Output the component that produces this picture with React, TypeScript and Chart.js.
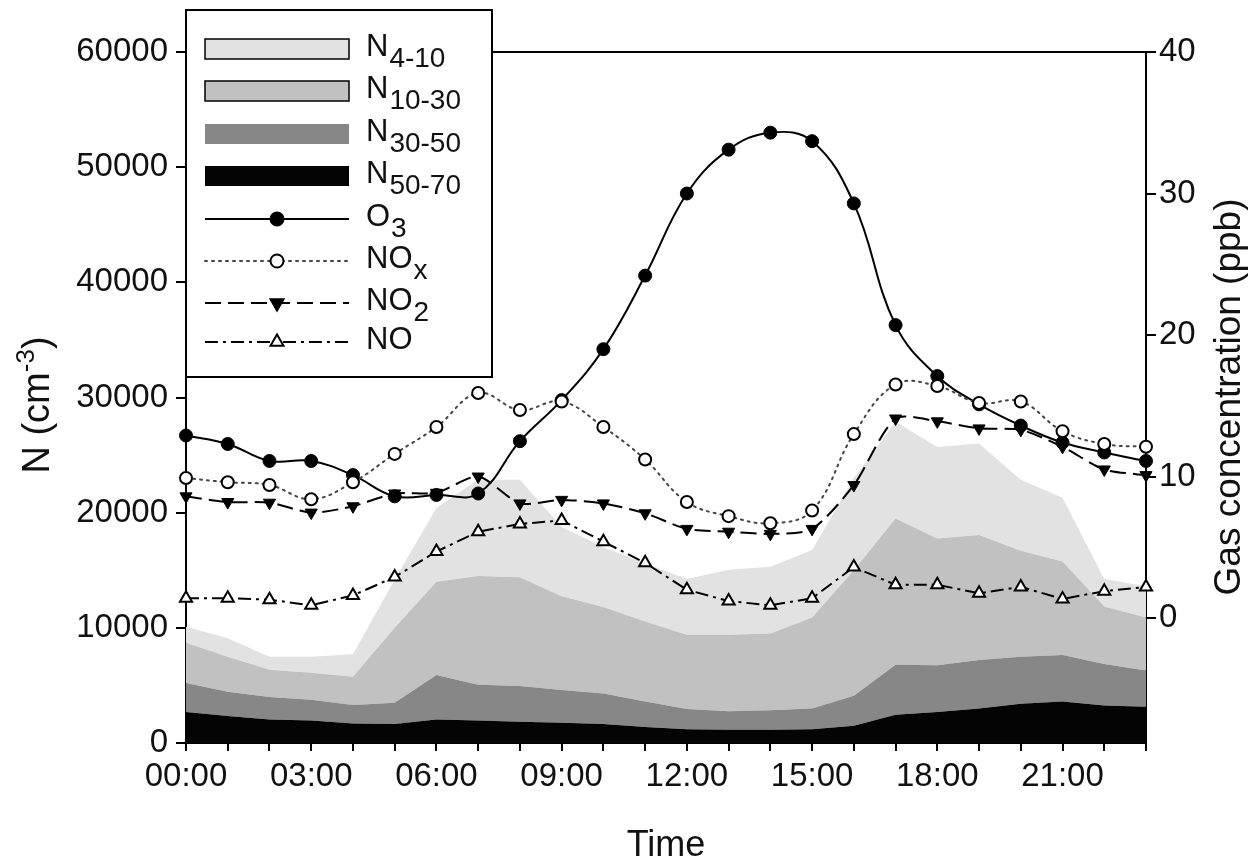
import React, { useEffect, useRef } from 'react';
import { Chart, registerables } from 'chart.js';

Chart.register(...registerables);

// ---------- data ----------
const hours = [
  '00:00', '01:00', '02:00', '03:00', '04:00', '05:00', '06:00', '07:00',
  '08:00', '09:00', '10:00', '11:00', '12:00', '13:00', '14:00', '15:00',
  '16:00', '17:00', '18:00', '19:00', '20:00', '21:00', '22:00', '23:00',
];

// particle number concentrations per size band (cm^-3), stacked
const n50_70 = [2700, 2350, 2050, 1950, 1700, 1650, 2050, 1950, 1850, 1750, 1650, 1400, 1200, 1150, 1150, 1200, 1500, 2450, 2700, 3000, 3400, 3600, 3250, 3150];
const n30_50 = [2500, 2100, 1950, 1800, 1600, 1850, 3850, 3100, 3100, 2850, 2650, 2200, 1750, 1600, 1700, 1800, 2600, 4350, 4050, 4200, 4100, 4050, 3600, 3150];
const n10_30 = [3500, 3050, 2350, 2350, 2450, 6500, 8100, 9450, 9450, 8150, 7500, 6950, 6450, 6650, 6650, 7900, 10900, 12700, 11000, 10850, 9200, 8100, 5000, 4600];
const n4_10 = [1400, 1600, 1150, 1400, 1950, 4200, 6400, 8350, 8450, 6000, 5200, 5050, 4850, 5650, 5800, 5850, 8000, 8400, 7950, 7950, 6150, 5550, 2400, 2700];

// gas concentrations (ppb)
const o3 = [12.9, 12.3, 11.1, 11.1, 10.1, 8.6, 8.7, 8.8, 12.5, 15.4, 19.0, 24.2, 30.0, 33.1, 34.3, 33.7, 29.3, 20.7, 17.1, 15.1, 13.6, 12.4, 11.7, 11.1];
const nox = [9.9, 9.6, 9.4, 8.4, 9.6, 11.6, 13.5, 15.9, 14.7, 15.3, 13.5, 11.2, 8.2, 7.2, 6.7, 7.6, 13.0, 16.5, 16.4, 15.2, 15.3, 13.2, 12.3, 12.1];
const no2 = [8.6, 8.2, 8.15, 7.45, 7.9, 8.8, 8.85, 10.0, 8.1, 8.35, 8.1, 7.4, 6.3, 6.1, 5.95, 6.3, 9.4, 14.1, 13.9, 13.4, 13.3, 12.1, 10.5, 10.1];
const no = [1.4, 1.4, 1.3, 0.9, 1.6, 2.9, 4.7, 6.1, 6.65, 6.9, 5.4, 3.9, 2.0, 1.2, 0.9, 1.4, 3.6, 2.35, 2.35, 1.75, 2.2, 1.35, 1.9, 2.2];

// axis ticks / ranges
const leftTicks = [0, 10000, 20000, 30000, 40000, 50000, 60000];
const rightTicks = [0, 10, 20, 30, 40];
const leftRange = [0, 60000];
const rightRange = [-8.83, 40];

// legend labels: main text + subscript
const legendMain = ['N', 'N', 'N', 'N', 'O', 'NO', 'NO', 'NO'];
const legendSub = ['4-10', '10-30', '30-50', '50-70', '3', 'x', '2', ''];

// titles
const xTitle = 'Time';
const yTitleMain = 'N (cm';
const yTitleSup = '-3';
const yTitleEnd = ')';
const y1Title = 'Gas concentration (ppb)';

// ---------- styles ----------
const FAMILY = '"Liberation Sans", Arial, Helvetica, sans-serif';
const C_4_10 = '#e2e2e2';
const C_10_30 = '#c1c1c1';
const C_30_50 = '#878787';
const C_50_70 = '#040404';
const DOT = [2, 5];
const DASH = [16, 7];
const DASHDOT = [13, 5, 3, 5];

function drawMarker(ctx: CanvasRenderingContext2D, kind: string, x: number, y: number, r: number, fill: string) {
  ctx.save();
  ctx.setLineDash([]);
  ctx.lineWidth = 2;
  ctx.strokeStyle = '#000';
  ctx.fillStyle = fill;
  ctx.beginPath();
  if (kind === 'circle') {
    ctx.arc(x, y, r, 0, Math.PI * 2);
  } else {
    const rot = kind === 'tri-down' ? Math.PI : 0;
    for (let k = 0; k < 3; k++) {
      const a = rot + (k * 2 * Math.PI) / 3;
      const px = x + Math.sin(a) * r;
      const py = y - Math.cos(a) * r;
      if (k === 0) ctx.moveTo(px, py);
      else ctx.lineTo(px, py);
    }
    ctx.closePath();
  }
  ctx.fill();
  ctx.stroke();
  ctx.restore();
}

const overlayPlugin = {
  id: 'overlay',
  afterDraw(chart: any) {
    const ctx: CanvasRenderingContext2D = chart.ctx;
    const ca = chart.chartArea;
    ctx.save();
    // top frame line
    ctx.strokeStyle = '#000';
    ctx.lineWidth = 2;
    ctx.setLineDash([]);
    ctx.beginPath();
    ctx.moveTo(ca.left, ca.top);
    ctx.lineTo(ca.right, ca.top);
    ctx.stroke();

    // legend box
    const bx = ca.left, by = 10, bw = 306, bh = 367;
    ctx.fillStyle = '#fff';
    ctx.fillRect(bx, by, bw, bh);
    ctx.strokeRect(bx, by, bw, bh);

    const rowsY = [49, 91, 134, 176, 219, 261, 303, 342];
    const sx0 = 205, sx1 = 349, mx = 277;
    const boxFills = [C_4_10, C_10_30, C_30_50, C_50_70];
    const boxStroke = [true, true, false, false];
    const lineDash = [[], DOT, DASH, DASHDOT];
    const markerKind = ['circle', 'circle', 'tri-down', 'tri-up'];
    const markerFill = ['#000', '#fff', '#000', '#fff'];
    const markerR = [6.5, 6.5, 7.5, 7.5];
    for (let i = 0; i < 8; i++) {
      const cy = rowsY[i];
      if (i < 4) {
        ctx.fillStyle = boxFills[i];
        ctx.fillRect(sx0, cy - 10, sx1 - sx0, 20);
        if (boxStroke[i]) {
          ctx.lineWidth = 1.5;
          ctx.strokeStyle = '#000';
          ctx.strokeRect(sx0, cy - 10, sx1 - sx0, 20);
        }
      } else {
        const j = i - 4;
        ctx.strokeStyle = j === 1 ? '#444' : '#000';
        ctx.lineWidth = 2;
        ctx.lineCap = j === 1 ? 'round' : 'butt';
        ctx.setLineDash(lineDash[j]);
        ctx.beginPath();
        ctx.moveTo(sx0, cy);
        ctx.lineTo(sx1, cy);
        ctx.stroke();
        ctx.setLineDash([]);
        ctx.lineCap = 'butt';
        drawMarker(ctx, markerKind[j], mx, cy, markerR[j], markerFill[j]);
      }
      // text
      ctx.fillStyle = '#111';
      ctx.textAlign = 'left';
      ctx.textBaseline = 'alphabetic';
      ctx.font = `31px ${FAMILY}`;
      const tx = 366;
      const base = cy + 7;
      ctx.fillText(legendMain[i], tx, base);
      const w = ctx.measureText(legendMain[i]).width;
      if (legendSub[i]) {
        ctx.font = `28px ${FAMILY}`;
        ctx.fillText(legendSub[i], tx + w + 1, base + 11);
      }
    }

    // axis titles
    ctx.fillStyle = '#111';
    ctx.textBaseline = 'alphabetic';
    // x title
    ctx.font = `36px ${FAMILY}`;
    ctx.textAlign = 'center';
    ctx.fillText(xTitle, (ca.left + ca.right) / 2, 856);

    // left title (rotated)
    ctx.save();
    ctx.translate(49, 405);
    ctx.rotate(-Math.PI / 2);
    ctx.font = `38px ${FAMILY}`;
    const w1 = ctx.measureText(yTitleMain).width;
    ctx.font = `26px ${FAMILY}`;
    const w2 = ctx.measureText(yTitleSup).width;
    ctx.font = `38px ${FAMILY}`;
    const w3 = ctx.measureText(yTitleEnd).width;
    let px = -(w1 + w2 + w3) / 2;
    ctx.textAlign = 'left';
    ctx.fillText(yTitleMain, px, 0);
    px += w1;
    ctx.font = `26px ${FAMILY}`;
    ctx.fillText(yTitleSup, px, -15);
    px += w2;
    ctx.font = `38px ${FAMILY}`;
    ctx.fillText(yTitleEnd, px, 0);
    ctx.restore();

    // right title (rotated)
    ctx.save();
    ctx.translate(1240, 397);
    ctx.rotate(-Math.PI / 2);
    ctx.font = `37px ${FAMILY}`;
    ctx.textAlign = 'center';
    ctx.fillText(y1Title, 0, 0);
    ctx.restore();

    ctx.restore();
  },
};

export default function App() {
  const canvasRef = useRef<HTMLCanvasElement | null>(null);

  useEffect(() => {
    document.body.style.margin = '0';
    const canvas = canvasRef.current;
    if (!canvas) return;

    const tickFont = { family: FAMILY, size: 33 };
    const area = (label: string, data: number[], color: string, fill: any, order: number) => ({
      label,
      data,
      yAxisID: 'y',
      stack: 'n',
      backgroundColor: color,
      borderColor: color,
      borderWidth: 0,
      pointRadius: 0,
      tension: 0,
      fill,
      order,
    });

    const chart = new Chart(canvas, {
      type: 'line',
      data: {
        labels: hours,
        datasets: [
          area('N50-70', n50_70, C_50_70, 'origin', 10),
          area('N30-50', n30_50, C_30_50, '-1', 11),
          area('N10-30', n10_30, C_10_30, '-1', 12),
          area('N4-10', n4_10, C_4_10, '-1', 13),
          {
            label: 'O3', data: o3, yAxisID: 'y1', borderColor: '#000', borderWidth: 2,
            pointStyle: 'circle', pointRadius: 6.5, pointBackgroundColor: '#000', pointBorderColor: '#000',
            pointBorderWidth: 1, tension: 0.4, fill: false, clip: false, order: 1,
          },
          {
            label: 'NOx', data: nox, yAxisID: 'y1', borderColor: '#444', borderWidth: 2, borderDash: DOT,
            borderCapStyle: 'round',
            pointStyle: 'circle', pointRadius: 6, pointBackgroundColor: '#fff', pointBorderColor: '#000',
            pointBorderWidth: 2, tension: 0.4, fill: false, clip: false, order: 0,
          },
          {
            label: 'NO2', data: no2, yAxisID: 'y1', borderColor: '#000', borderWidth: 2, borderDash: DASH,
            pointStyle: 'triangle', pointRotation: 180, pointRadius: 7, pointBackgroundColor: '#000',
            pointBorderColor: '#000', pointBorderWidth: 1, tension: 0.25, fill: false, clip: false, order: 2,
          },
          {
            label: 'NO', data: no, yAxisID: 'y1', borderColor: '#000', borderWidth: 2, borderDash: DASHDOT,
            pointStyle: 'triangle', pointRadius: 7, pointBackgroundColor: '#fff', pointBorderColor: '#000',
            pointBorderWidth: 2, tension: 0, fill: false, clip: false, order: 3,
          },
        ] as any,
      },
      options: {
        responsive: true,
        maintainAspectRatio: false,
        animation: false,
        layout: { padding: { top: 52, left: 0, right: 0, bottom: 0 } },
        plugins: {
          legend: { display: false },
          tooltip: { enabled: false },
          title: { display: false },
        },
        scales: {
          x: {
            type: 'category',
            offset: false,
            grid: { display: true, drawOnChartArea: false, drawTicks: true, tickLength: 8, color: '#000', lineWidth: 2 },
            border: { display: true, color: '#000', width: 2 },
            ticks: {
              autoSkip: false,
              maxRotation: 0,
              minRotation: 0,
              padding: 6,
              color: '#111',
              font: tickFont,
              callback: (_v: any, i: number) => (i % 3 === 0 ? hours[i] : ''),
            },
            afterFit: (s: any) => { s.height = 117; },
          },
          y: {
            position: 'left',
            stacked: true,
            min: leftRange[0],
            max: leftRange[1],
            afterBuildTicks: (s: any) => { s.ticks = leftTicks.map((v) => ({ value: v })); },
            grid: { display: true, drawOnChartArea: false, drawTicks: true, tickLength: 10, color: '#000', lineWidth: 2 },
            border: { display: true, color: '#000', width: 2 },
            ticks: { padding: 8, color: '#111', font: tickFont, callback: (v: any) => String(v) },
            afterFit: (s: any) => { s.width = 186; },
          },
          y1: {
            position: 'right',
            min: rightRange[0],
            max: rightRange[1],
            afterBuildTicks: (s: any) => { s.ticks = rightTicks.map((v) => ({ value: v })); },
            grid: { display: true, drawOnChartArea: false, drawTicks: true, tickLength: 10, color: '#000', lineWidth: 2 },
            border: { display: true, color: '#000', width: 2 },
            ticks: { padding: 3, color: '#111', font: tickFont, callback: (v: any) => String(v) },
            afterFit: (s: any) => { s.width = 108; },
          },
        },
      } as any,
      plugins: [overlayPlugin],
    });

    return () => chart.destroy();
  }, []);

  return (
    <div style={{ position: 'absolute', left: 0, top: 0, width: 1254, height: 860 }}>
      <canvas ref={canvasRef} />
    </div>
  );
}
